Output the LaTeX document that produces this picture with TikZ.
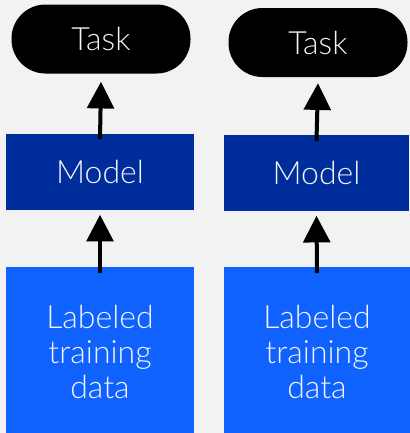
\documentclass[tikz,border=0pt]{standalone}
\usepackage{fontspec}
\setmainfont{Lato}[UprightFont=* Light]
\usetikzlibrary{arrows.meta}
\definecolor{bggray}{HTML}{F2F2F2}
\definecolor{modelblue}{HTML}{002D9C}
\definecolor{datablue}{HTML}{0F62FE}
\definecolor{labelwhite}{HTML}{F4F4F4}
\tikzset{
  box/.style={inner sep=0pt, text=labelwhite, font=\fontsize{24}{26.6}\selectfont, align=center},
  taskpill/.style={box, fill=black, minimum width=179*0.75pt, minimum height=69*0.75pt, rounded corners=34*0.75pt},
  modelbox/.style={box, fill=modelblue, minimum height=76*0.75pt},
  databox/.style={box, fill=datablue},
  uparrow/.style={line width=3pt, -{Triangle[width=20pt,length=20pt]}}
}
\begin{document}
\begin{tikzpicture}[x=0.75pt,y=-0.75pt]
  \fill[bggray] (0,0) rectangle (410,433);
  \useasboundingbox (0,0) rectangle (410,433);

  % left column
  \node[taskpill] (taskL) at (101,39) {Task};
  \node[modelbox, minimum width=188*0.75pt] (modelL) at (100,171.5) {Model};
  \fill[datablue] (6,267) rectangle (194,433);
  \node[databox] (dataL) at (100,352) {Labeled\\training\\data};
  \coordinate (dataLtop) at (100,267);

  % right column
  \node[taskpill] (taskR) at (318,42.5) {Task};
  \node[modelbox, minimum width=185*0.75pt] (modelR) at (316.5,172.5) {Model};
  \fill[datablue] (224,267) rectangle (410,433);
  \node[databox] (dataR) at (317,352) {Labeled\\training\\data};
  \coordinate (dataRtop) at (317,267);

  % arrows
  \draw[uparrow] ([yshift=-6*0.75pt]modelL.north) -- ([yshift=-8*0.75pt]taskL.south);
  \draw[uparrow] ([yshift=-6*0.75pt]dataLtop) -- ([yshift=-5*0.75pt]modelL.south);
  \draw[uparrow] ([yshift=-7*0.75pt]modelR.north) -- ([yshift=-6*0.75pt]taskR.south);
  \draw[uparrow] ([yshift=-6*0.75pt]dataRtop) -- ([yshift=-5*0.75pt]modelR.south);
\end{tikzpicture}
\end{document}
